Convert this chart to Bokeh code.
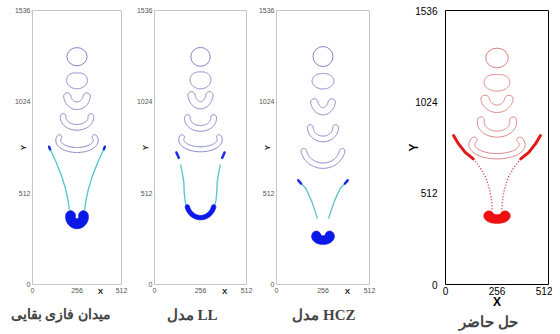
import numpy as np
from bokeh.plotting import figure
from bokeh.layouts import row
from bokeh.models import Range1d, FixedTicker, LinearAxis
from bokeh.embed import file_html
from bokeh.resources import INLINE

# ---------------- data ----------------
titles = ["میدان فازی بقایی", "مدل LL", "مدل HCZ", "حل حاضر"]
x_ticks = [0, 256, 512]
y_ticks = [0, 512, 1024, 1536]
x_axis_mid = 256  # symmetry axis of the domain
x_label_pos = 390  # where the small "X" sits on panels 1-3

# top (round) bubble: centre y, half-width, half-height
circ_y = [1277, 1276, 1278, 1270]
circ_a = [58, 54, 55, 56]
circ_b = [51, 53, 56, 55]

# second bubble (dented at top): bottom y, top y, half-width, dent depth
dent_bottom = [1097, 1097, 1096, 1084]
dent_top = [1193, 1198, 1185, 1184]
dent_w = [60, 58, 60, 64]
dent_depth = [0.15, 0.12, 0.05, 0.15]

# crescent bubbles (3 per panel): bottom y, top y, half-width, wall, angular span (deg)
cres_bottom = [[981, 865, 740], [985, 859, 744], [951, 800, 651], [964, 826, 704]]
cres_top = [[1074, 958, 840], [1081, 952, 840], [1041, 896, 763], [1061, 939, 826]]
cres_w = [[77, 96, 122], [70, 89, 121], [68, 86, 121], [80, 98, 140]]
cres_wall = [[42, 32, 28], [40, 32, 28], [40, 32, 30], [42, 34, 30]]
cres_span = [[80, 95, 110], [80, 95, 105], [75, 88, 78], [80, 100, 115]]

# filled blob at the bottom: bottom y, top y, half-width, wall, span
blob_bottom = [313, 363, 225, 343]
blob_top = [413, 447, 299, 412]
blob_w = [65, 85, 62, 65]
blob_wall = [55, 24, 48, 48]
blob_span = [100, 75, 105, 100]

# thick tips of the skirt (left side, mirrored)
tip_x = [[96, 101], [122, 135], [120, 135], [40, 65, 98, 138]]
tip_y = [[772, 758], [740, 710], [584, 566], [835, 788, 741, 704]]

# thin skirt filaments (left side, mirrored)
tail_x = [[96, 135, 166, 189, 204, 212], [145, 154, 163, 165, 170, 180],
          [120, 135, 161, 194, 216, 225], [138, 171, 200, 219, 228, 232]]
tail_y = [[772, 688, 613, 540, 474, 419], [672, 630, 577, 520, 470, 430],
          [584, 566, 540, 466, 400, 369], [704, 657, 601, 534, 478, 422]]

# ---------------- styles ----------------
outline_col = ["#8585c9", "#8585c9", "#8585c9", "#d98282"]
tail_col = ["#4cc6c8", "#4cc6c8", "#5cbfc8", "#c84040"]
tip_col = ["#1a2ae0", "#1a2ae0", "#1a2ae0", "#e01818"]
blob_col = ["#0b18e8", "#0b18e8", "#0b18e8", "#f01010"]
title_size = ["14px", "15px", "15px", "15px"]
title_offset = [11, 29, 14, 31]
FIG_H = 333


def crescent(yb, yt, w, t, span_deg, n=60):
    phi = np.radians(span_deg)
    A = w - t / 2 if phi >= np.pi / 2 else (w - t / 2) / np.sin(phi)
    B = (yt - yb - t) / (1 - np.cos(phi))
    yc = yb + t / 2 + B
    s = np.linspace(-1, 1, n)
    th = -np.pi / 2 + phi * s
    cx = x_axis_mid + A * np.cos(th)
    cy = yc + B * np.sin(th)
    nx, ny = B * np.cos(th), A * np.sin(th)
    nn = np.hypot(nx, ny)
    nx, ny = nx / nn, ny / nn
    tx, ty = -A * np.sin(th), B * np.cos(th)
    tn = np.hypot(tx, ty)
    tx, ty = tx / tn, ty / tn
    h = t / 2
    a = np.linspace(0, np.pi, 16)
    ex = cx[-1] + h * (nx[-1] * np.cos(a) + tx[-1] * np.sin(a))
    ey = cy[-1] + h * (ny[-1] * np.cos(a) + ty[-1] * np.sin(a))
    sx = cx[0] + h * (-nx[0] * np.cos(a) - tx[0] * np.sin(a))
    sy = cy[0] + h * (-ny[0] * np.cos(a) - ty[0] * np.sin(a))
    xs = np.concatenate([cx + h * nx, ex, (cx - h * nx)[::-1], sx])
    ys = np.concatenate([cy + h * ny, ey, (cy - h * ny)[::-1], sy])
    return list(xs), list(ys)


def dented(yb, yt, w, d, n=120):
    b = (yt - yb) / 2
    yc = (yt + yb) / 2
    th = np.linspace(0, 2 * np.pi, n)
    f = 1 - d * np.exp(-((th - np.pi / 2) / 0.55) ** 2)
    return list(x_axis_mid + w * np.cos(th) * f), list(yc + b * np.sin(th) * f)


def mirror(xs):
    return [2 * x_axis_mid - x for x in xs]


def make_panel(i, fw, bl, br, bt, bb, big):
    p = figure(width=bl + fw + br, height=FIG_H, x_range=Range1d(0, 512),
               y_range=Range1d(0, 1536), output_backend="svg", toolbar_location=None,
               min_border_left=bl, min_border_right=br, min_border_top=bt,
               min_border_bottom=bb, title=titles[i], title_location="below")
    p.grid.visible = False
    p.xaxis.ticker = FixedTicker(ticks=x_ticks)
    p.yaxis.ticker = FixedTicker(ticks=y_ticks)
    for ax in (p.xaxis[0], p.yaxis[0]):
        ax.axis_line_color = None
        ax.major_tick_line_color = None
        ax.minor_tick_line_color = None
        ax.major_tick_out = 0
        ax.major_tick_in = 0
        ax.major_label_text_font = "Liberation Sans"
        ax.major_label_text_font_size = "10px" if big else "7px"
        ax.major_label_text_color = "#000000" if big else "#555555"
        ax.axis_label_text_font = "Liberation Sans"
        ax.axis_label_text_font_style = "bold"
        ax.axis_label_text_font_size = "12px" if big else "8px"
        ax.axis_label_text_color = "#000000" if big else "#222222"
    p.xaxis.major_label_standoff = 2 if big else 3
    p.yaxis.major_label_standoff = 8 if big else 2
    p.yaxis.major_label_orientation = "horizontal"
    p.yaxis.axis_label = "Y"
    p.yaxis.axis_label_standoff = -9 if big else -16
    if big:
        p.xaxis.axis_label = "X"
        p.xaxis.axis_label_standoff = -3
    else:
        xlab = LinearAxis(ticker=FixedTicker(ticks=[x_label_pos]),
                          major_label_overrides={x_label_pos: "X"})
        xlab.axis_line_color = None
        xlab.major_tick_line_color = None
        xlab.minor_tick_line_color = None
        xlab.major_tick_out = 0
        xlab.major_tick_in = 0
        xlab.major_label_standoff = -9
        xlab.major_label_text_font = "Liberation Sans"
        xlab.major_label_text_font_style = "bold"
        xlab.major_label_text_font_size = "8px"
        xlab.major_label_text_color = "#222222"
        p.add_layout(xlab, "below")

    p.title.align = "right"
    p.title.offset = title_offset[i]
    p.title.text_font = "Liberation Serif"
    p.title.text_font_style = "bold"
    p.title.text_font_size = title_size[i]
    p.title.standoff = 0 if big else 12

    p.outline_line_color = "#000000" if big else "#c6c6c6"
    p.outline_line_width = 1
    p.background_fill_color = "white"
    p.border_fill_color = "white"

    oc = outline_col[i]
    p.ellipse(x=[x_axis_mid], y=[circ_y[i]], width=[2 * circ_a[i]], height=[2 * circ_b[i]],
              fill_color=None, line_color=oc, line_width=1)
    xs_all, ys_all = [], []
    dx, dy = dented(dent_bottom[i], dent_top[i], dent_w[i], dent_depth[i])
    xs_all.append(dx); ys_all.append(dy)
    for k in range(3):
        cx, cy = crescent(cres_bottom[i][k], cres_top[i][k], cres_w[i][k],
                          cres_wall[i][k], cres_span[i][k])
        xs_all.append(cx); ys_all.append(cy)
    p.patches(xs_all, ys_all, fill_color=None, line_color=oc, line_width=1)

    dash = "1 2" if big else "solid"
    p.multi_line([tail_x[i], mirror(tail_x[i])], [tail_y[i], tail_y[i]],
                 line_color=tail_col[i], line_width=1.5 if big else 1.3, line_dash=dash)
    p.multi_line([tip_x[i], mirror(tip_x[i])], [tip_y[i], tip_y[i]],
                 line_color=tip_col[i], line_width=3 if big else 2.5, line_cap="round")

    bx, by = crescent(blob_bottom[i], blob_top[i], blob_w[i], blob_wall[i], blob_span[i])
    p.patch(bx, by, fill_color=blob_col[i], line_color=blob_col[i], line_width=1)
    return p


# panel geometry: (frame_w, left, right, top, bottom); the row aligns all frames
geo = [(89, 32, 8, 10, 49), (92, 25, 8, 10, 49), (93, 22, 8, 10, 49),
       (103, 68, 4, 10, 49)]
panels = [make_panel(i, *g, i == 3) for i, g in enumerate(geo)]

layout = row(*panels, spacing=0)
open("out.html", "w").write(file_html(layout, INLINE))
